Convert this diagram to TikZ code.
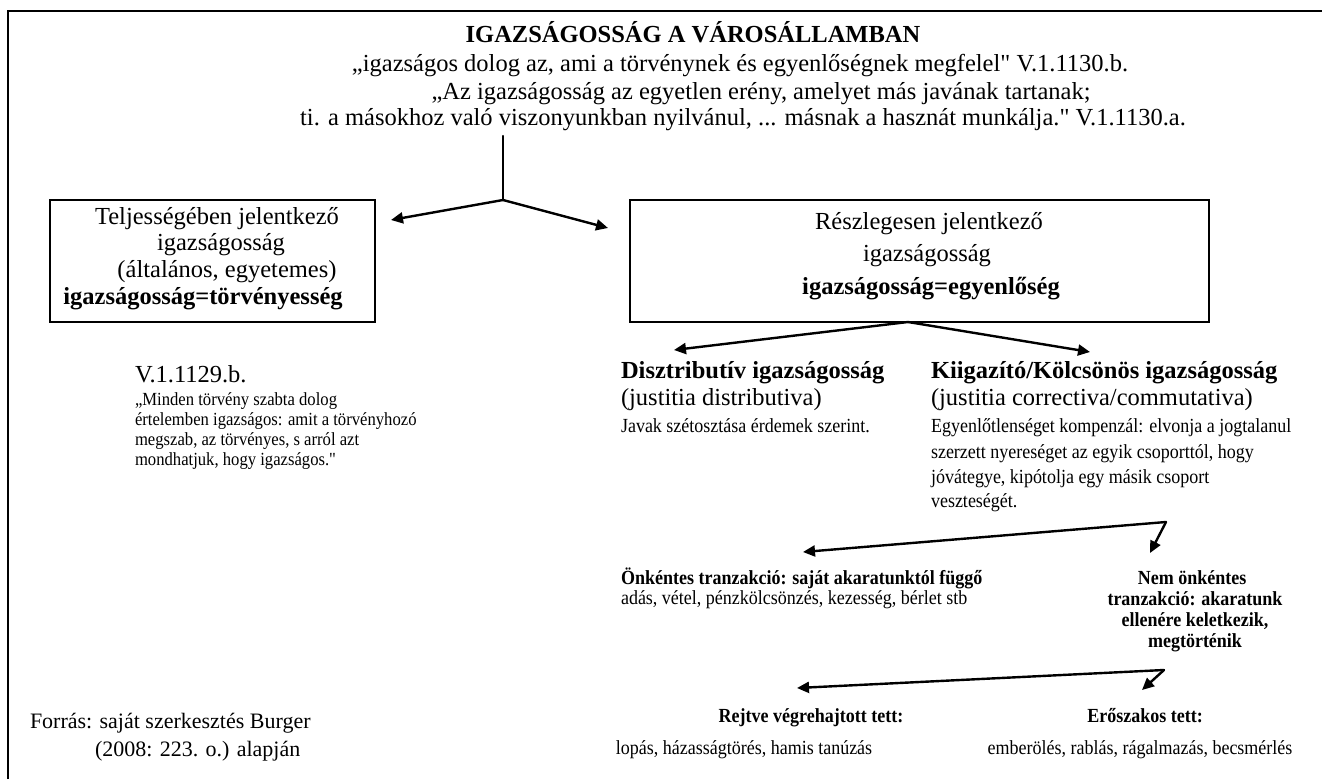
\documentclass[tikz,border=0pt]{standalone}
\usepackage{fontspec}
\newfontfamily\serf{Liberation Serif}
\newfontfamily\condf{Liberation Serif}[FakeStretch=0.9]
\usetikzlibrary{arrows.meta}
\begin{document}
\begin{tikzpicture}[x=1pt,y=-1pt,
  txt/.style={inner sep=0pt,outer sep=0pt,font=\serf\fontsize{24.5}{28}\selectfont},
  btxt/.style={inner sep=0pt,outer sep=0pt,font=\serf\fontsize{24.5}{28}\selectfont\bfseries},
  stxt/.style={inner sep=0pt,outer sep=0pt,font=\condf\fontsize{20}{24}\selectfont},
  sbtxt/.style={inner sep=0pt,outer sep=0pt,font=\condf\fontsize{20}{24}\selectfont\bfseries},
  qtxt/.style={inner sep=0pt,outer sep=0pt,font=\condf\fontsize{18.5}{21}\selectfont},
  srctxt/.style={inner sep=0pt,outer sep=0pt,font=\serf\fontsize{22}{26}\selectfont},
  frame/.style={draw=black,line width=1.6pt,inner sep=0pt,outer sep=0pt},
  conn/.style={line width=2.4pt,line cap=round,line join=round},
  arr/.style={conn,-{Triangle[length=12pt,width=11pt]}}
]
\useasboundingbox (0,0) rectangle (1322,779);
% outer frame (top and left only)
\draw[line width=2.2pt] (8,779) -- (8,11) -- (1322,11);

% heading
\node[btxt,anchor=base] (title) at (693,42) {IGAZSÁGOSSÁG A VÁROSÁLLAMBAN};
\node[txt,anchor=base] (q1) at (740,71) {„igazságos dolog az, ami a törvénynek és egyenlőségnek megfelel" V.1.1130.b.};
\node[txt,anchor=base] (q2) at (761,99) {„Az igazságosság az egyetlen erény, amelyet más javának tartanak;};
\node[txt,anchor=base] (q3) at (743,125) {ti. a másokhoz való viszonyunkban nyilvánul, ... másnak a hasznát munkálja." V.1.1130.a.};

% boxes
\node[frame,minimum width=325pt,minimum height=122pt] (lbox) at (212.5,261) {};
\node[frame,minimum width=579pt,minimum height=122pt] (rbox) at (919.5,261) {};

\node[txt,anchor=base] (l1) at (217,224) {Teljességében jelentkező};
\node[txt,anchor=base] (l2) at (221,250) {igazságosság};
\node[txt,anchor=base] (l3) at (227,277) {(általános, egyetemes)};
\node[btxt,anchor=base] (l4) at (203,304) {igazságosság=törvényesség};

\node[txt,anchor=base] (r1) at (929,229) {Részlegesen jelentkező};
\node[txt,anchor=base] (r2) at (927,261) {igazságosság};
\node[btxt,anchor=base] (r3) at (931,294) {igazságosság=egyenlőség};

% first split
\coordinate (stemtop) at (503,136);
\coordinate (v1) at (503,200);
\coordinate (t1l) at (391,220);
\coordinate (t1r) at (608,228);
\draw[conn] (stemtop) -- (v1);
\draw[arr] (v1) -- (t1l);
\draw[arr] (v1) -- (t1r);

% left quotation
\node[txt,anchor=base west] (v1129) at (135,382) {V.1.1129.b.};
\node[qtxt,anchor=base west] (m1) at (135,405) {„Minden törvény szabta dolog};
\node[qtxt,anchor=base west] (m2) at (135,425) {értelemben igazságos: amit a törvényhozó};
\node[qtxt,anchor=base west] (m3) at (135,445) {megszab, az törvényes, s arról azt};
\node[qtxt,anchor=base west] (m4) at (135,465) {mondhatjuk, hogy igazságos."};

% second split
\coordinate (v2) at (908,322);
\coordinate (t2l) at (674,350);
\coordinate (t2r) at (1090,352);
\draw[arr] (v2) -- (t2l);
\draw[arr] (v2) -- (t2r);

\node[btxt,anchor=base west] (d1) at (621,378) {Disztributív igazságosság};
\node[txt,anchor=base west] (d2) at (621,405) {(justitia distributiva)};
\node[stxt,anchor=base west] (d3) at (621,432) {Javak szétosztása érdemek szerint.};

\node[btxt,anchor=base west] (k1) at (931,378) {Kiigazító/Kölcsönös igazságosság};
\node[txt,anchor=base west] (k2) at (931,405) {(justitia correctiva/commutativa)};
\node[stxt,anchor=base west] (k3) at (931,432) {Egyenlőtlenséget kompenzál: elvonja a jogtalanul};
\node[stxt,anchor=base west] (k4) at (931,458) {szerzett nyereséget az egyik csoporttól, hogy};
\node[stxt,anchor=base west] (k5) at (931,483) {jóvátegye, kipótolja egy másik csoport};
\node[stxt,anchor=base west] (k6) at (931,507) {veszteségét.};

% third split
\coordinate (v3) at (1166,522);
\coordinate (t3l) at (803,552);
\coordinate (t3r) at (1150,553);
\draw[arr] (v3) -- (t3l);
\draw[arr] (v3) -- (t3r);

\node[sbtxt,anchor=base west] (o1) at (621,584) {Önkéntes tranzakció: saját akaratunktól függő};
\node[stxt,anchor=base west] (o2) at (621,604) {adás, vétel, pénzkölcsönzés, kezesség, bérlet stb};

\node[sbtxt,anchor=base] (n1) at (1192,584) {Nem önkéntes};
\node[sbtxt,anchor=base] (n2) at (1195,605) {tranzakció: akaratunk};
\node[sbtxt,anchor=base] (n3) at (1195,626) {ellenére keletkezik,};
\node[sbtxt,anchor=base] (n4) at (1195,647) {megtörténik};

% fourth split
\coordinate (v4) at (1164,670);
\coordinate (t4l) at (797,688);
\coordinate (t4r) at (1142,690);
\draw[arr] (v4) -- (t4l);
\draw[arr] (v4) -- (t4r);

\node[sbtxt,anchor=base] (e1) at (811,722) {Rejtve végrehajtott tett:};
\node[sbtxt,anchor=base] (e2) at (1145,722) {Erőszakos tett:};
\node[stxt,anchor=base] (e3) at (744,754) {lopás, házasságtörés, hamis tanúzás};
\node[stxt,anchor=base] (e4) at (1140,754) {emberölés, rablás, rágalmazás, becsmérlés};

% source
\node[srctxt,anchor=base west] (src1) at (30,728) {Forrás: saját szerkesztés Burger};
\node[srctxt,anchor=base west] (src2) at (95,756) {(2008: 223. o.) alapján};
\end{tikzpicture}
\end{document}
